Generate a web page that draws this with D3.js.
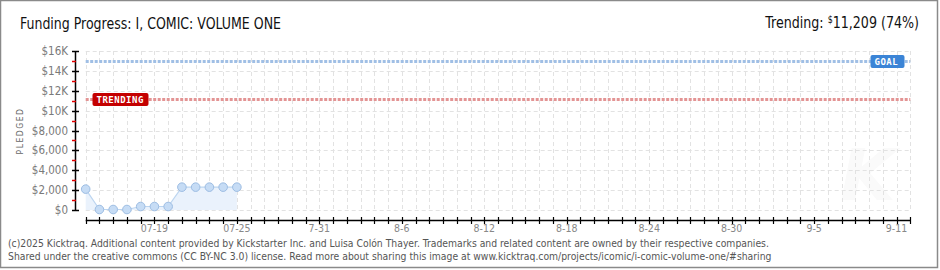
<!DOCTYPE html>
<html>
<head>
<meta charset="utf-8">
<script src="https://cdn.jsdelivr.net/npm/d3@7"></script>
<style>
  html, body { margin: 0; padding: 0; background: #fff; }
  svg { display: block; }
  .title { font-family: "DejaVu Sans Condensed", "DejaVu Sans", sans-serif; font-stretch: condensed; fill: #111; }
  .small { font-family: "DejaVu Sans Condensed", "DejaVu Sans", sans-serif; font-stretch: condensed; }
</style>
</head>
<body>
<div id="chart"></div>
<script>
// Daily pledged totals (USD)
const pledgeDates = ['2025-07-14', '2025-07-15', '2025-07-16', '2025-07-17', '2025-07-18', '2025-07-19',
  '2025-07-20', '2025-07-21', '2025-07-22', '2025-07-23', '2025-07-24', '2025-07-25'];
const pledged = [2100, 50, 50, 50, 350, 350, 350, 2300, 2300, 2300, 2300, 2300];

const goal = 15000;
const trending = 11209;
const trendingPct = 74;

const yTicks = [0, 2000, 4000, 6000, 8000, 10000, 12000, 14000, 16000];
const yTickLabels = ['$0', '$2,000', '$4,000', '$6,000', '$8,000', '$10K', '$12K', '$14K', '$16K'];
const yMinorTicks = [1000, 3000, 5000, 7000, 9000, 11000, 13000, 15000];

const xLabelDates = ['2025-07-19', '2025-07-25', '2025-07-31', '2025-08-06', '2025-08-12',
  '2025-08-18', '2025-08-24', '2025-08-30', '2025-09-05', '2025-09-11'];
const xLabels = ['07-19', '07-25', '7-31', '8-6', '8-12', '8-18', '8-24', '8-30', '9-5', '9-11'];

const W = 940, H = 270;
const parse = d3.timeParse('%Y-%m-%d');

const svg = d3.select('#chart').append('svg')
  .attr('width', W).attr('height', H);

// outer frame
svg.append('rect')
  .attr('x', 0.5).attr('y', 0.5)
  .attr('width', W - 3).attr('height', H - 3)
  .attr('fill', '#fff').attr('stroke', '#8a8a8a').attr('stroke-width', 1.5);

const x = d3.scaleTime()
  .domain([parse('2025-07-14'), parse('2025-09-12')])
  .range([85.7, 910.3]);
const y = d3.scaleLinear().domain([0, 16000]).range([210, 51]);

const allDays = d3.timeDay.range(parse('2025-07-14'), d3.timeDay.offset(parse('2025-09-12'), 1));

// faint watermark
svg.append('text')
  .attr('x', 868).attr('y', 200)
  .attr('text-anchor', 'middle')
  .style('font-family', '"DejaVu Sans", sans-serif')
  .style('font-style', 'italic')
  .style('font-weight', 'bold')
  .style('font-size', '72px')
  .style('fill', '#fafafa')
  .text('K');

// grid
const grid = svg.append('g').attr('stroke', '#e2e2e2').attr('stroke-dasharray', '4,3').attr('stroke-width', 1);
grid.selectAll('.vg').data(allDays).enter().append('line')
  .attr('x1', d => Math.round(x(d)) + 0.5).attr('x2', d => Math.round(x(d)) + 0.5)
  .attr('y1', y(16000)).attr('y2', y(0));
grid.selectAll('.hg').data(yTicks).enter().append('line')
  .attr('x1', x.range()[0]).attr('x2', x.range()[1])
  .attr('y1', d => Math.round(y(d)) + 0.5).attr('y2', d => Math.round(y(d)) + 0.5);

// area + line
const pts = pledgeDates.map((d, i) => ({ date: parse(d), value: pledged[i] }));
svg.append('path').datum(pts)
  .attr('fill', '#eaf2fc')
  .attr('d', d3.area().x(d => x(d.date)).y0(y(0)).y1(d => y(d.value)));
svg.append('path').datum(pts)
  .attr('fill', 'none').attr('stroke', '#bcd5f0').attr('stroke-width', 1.2)
  .attr('d', d3.line().x(d => x(d.date)).y(d => y(d.value)));
svg.selectAll('.pt').data(pts).enter().append('circle')
  .attr('cx', d => x(d.date)).attr('cy', d => y(d.value)).attr('r', 4.3)
  .attr('fill', '#c6dcf5').attr('stroke', '#9dbde3').attr('stroke-width', 1);

// goal & trending lines
function refLine(v, color) {
  svg.append('line')
    .attr('x1', x.range()[0]).attr('x2', x.range()[1])
    .attr('y1', Math.round(y(v)) + 0.5).attr('y2', Math.round(y(v)) + 0.5)
    .attr('stroke', color).attr('stroke-width', 3).attr('stroke-dasharray', '3,1.5');
}
refLine(goal, '#a0bfe5');
refLine(trending, '#e39494');

function badge(bx, v, w, fill, label) {
  const cy = Math.round(y(v)) + 0.5;
  svg.append('rect')
    .attr('x', bx).attr('y', cy - 6.5).attr('width', w).attr('height', 13).attr('rx', 2)
    .attr('fill', fill);
  svg.append('text')
    .attr('x', bx + 4).attr('y', cy + 3.5)
    .style('font-family', '"DejaVu Sans Mono", monospace')
    .style('font-size', '9px').style('font-weight', 'bold')
    .style('letter-spacing', '0.5px')
    .style('fill', '#fff').text(label);
}
badge(870.5, goal, 34, '#3b84d6', 'GOAL');
badge(92.5, trending, 56, '#c40000', 'TRENDING');

// y axis
const yAxis = svg.append('g');
yAxis.append('line')
  .attr('x1', 75.5).attr('x2', 75.5).attr('y1', y(16000)).attr('y2', y(0))
  .attr('stroke', '#000').attr('stroke-width', 1.5);
yAxis.selectAll('.ymaj').data(yTicks).enter().append('line')
  .attr('x1', 72).attr('x2', 79)
  .attr('y1', d => Math.round(y(d)) + 0.5).attr('y2', d => Math.round(y(d)) + 0.5)
  .attr('stroke', '#000').attr('stroke-width', 1.5);
yAxis.selectAll('.ymin').data(yMinorTicks).enter().append('line')
  .attr('x1', 72).attr('x2', 76)
  .attr('y1', d => Math.round(y(d)) + 0.5).attr('y2', d => Math.round(y(d)) + 0.5)
  .attr('stroke', '#e00000').attr('stroke-width', 1.5);
yAxis.selectAll('.ylab').data(yTicks).enter().append('text')
  .attr('class', 'small')
  .attr('x', 68).attr('y', d => y(d) + 4)
  .attr('text-anchor', 'end')
  .style('font-size', '11.5px').style('fill', '#7a7a7a')
  .text((d, i) => yTickLabels[i]);

svg.append('text')
  .attr('class', 'small')
  .attr('transform', 'translate(23,131) rotate(-90)')
  .attr('text-anchor', 'middle')
  .style('font-size', '8.5px').style('letter-spacing', '1.5px').style('fill', '#666')
  .text('PLEDGED');

// x axis
const xAxis = svg.append('g');
xAxis.append('line')
  .attr('x1', x.range()[0]).attr('x2', x.range()[1]).attr('y1', 220.5).attr('y2', 220.5)
  .attr('stroke', '#000').attr('stroke-width', 1.5);
xAxis.selectAll('.xt').data(allDays).enter().append('line')
  .attr('x1', d => Math.round(x(d)) + 0.5).attr('x2', d => Math.round(x(d)) + 0.5)
  .attr('y1', 217).attr('y2', 224)
  .attr('stroke', '#000').attr('stroke-width', 1.2);
xAxis.selectAll('.xl').data(xLabelDates).enter().append('text')
  .attr('class', 'small')
  .attr('x', d => x(parse(d))).attr('y', 232)
  .attr('text-anchor', 'middle')
  .style('font-size', '10.5px').style('fill', '#888')
  .text((d, i) => xLabels[i]);

// titles (squeezed horizontally to mimic the narrow title face)
svg.append('text').attr('class', 'title')
  .attr('x', 20).attr('y', 29)
  .attr('textLength', 261).attr('lengthAdjust', 'spacingAndGlyphs')
  .style('font-size', '16px')
  .text('Funding Progress: I, COMIC: VOLUME ONE');

const tr = svg.append('text').attr('class', 'title')
  .attr('transform', 'translate(919,28) scale(0.88,1)')
  .attr('text-anchor', 'end')
  .style('font-size', '16px');
tr.append('tspan').text('Trending:  ');
tr.append('tspan').attr('dy', -5).style('font-size', '10px').text('$');
tr.append('tspan').attr('dy', 5).text(d3.format(',')(trending) + ' (' + trendingPct + '%)');

// footer
const foot = svg.append('g').attr('class', 'small').style('font-size', '10.3px').style('fill', '#555');
foot.append('text').attr('x', 8).attr('y', 247)
  .text('(c)2025 Kicktraq. Additional content provided by Kickstarter Inc. and Luisa Colón Thayer. Trademarks and related content are owned by their respective companies.');
foot.append('text').attr('x', 8).attr('y', 260)
  .text('Shared under the creative commons (CC BY-NC 3.0) license. Read more about sharing this image at www.kicktraq.com/projects/icomic/i-comic-volume-one/#sharing');
</script>
</body>
</html>
